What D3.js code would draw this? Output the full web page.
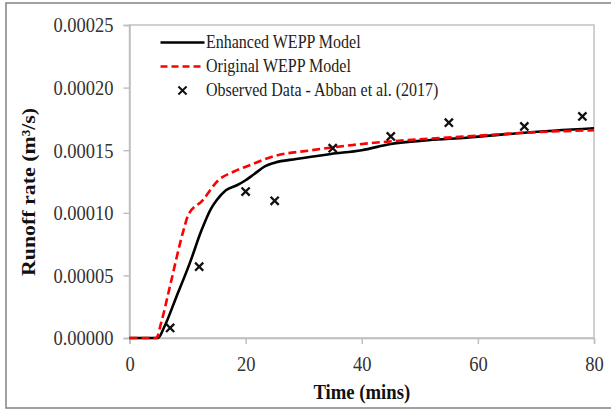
<!DOCTYPE html>
<html>
<head>
<meta charset="utf-8">
<script src="https://cdn.jsdelivr.net/npm/d3@7"></script>
<style>
  body { margin: 0; background: #fff; }
  text { font-family: "Liberation Serif", "Times New Roman", serif; }
</style>
</head>
<body>
<script>
// runoff rate values in m3/s
const enhancedTime = [0, 4.9, 6, 8, 10.4, 12.4, 14, 15, 16.6, 18.5, 20, 21.5, 23.3, 25, 28.7, 34.7, 40, 45, 51.5, 58, 68, 80]
const enhancedRate = [0, 0, 0.9, 3.2, 6.0, 8.6, 10.3, 11.0, 11.8, 12.2, 12.6, 13.1, 13.7, 14.0, 14.3, 14.7, 15.0, 15.5, 15.8, 16.0, 16.4, 16.75].map(v => v * 1e-5)

const originalTime = [0, 4.6, 5.5, 7, 9.3, 10.1, 12.6, 15.3, 18, 20.7, 24.7, 31.4, 38.1, 44.8, 58.2, 68.3, 80]
const originalRate = [0, 0, 1.3, 4.2, 8.6, 9.8, 11.0, 12.6, 13.3, 13.8, 14.5, 15.0, 15.4, 15.7, 16.1, 16.4, 16.6].map(v => v * 1e-5)

const observedTime = [7, 12, 20, 25, 35, 45, 55, 68, 78]
const observedRate = [0.8, 5.7, 11.7, 10.96, 15.16, 16.1, 17.2, 16.9, 17.7].map(v => v * 1e-5)

const xTicks = [0, 20, 40, 60, 80]
const yTicks = [0, 0.00005, 0.0001, 0.00015, 0.0002, 0.00025]

const width = 611
const height = 411
const margin = { top: 25, right: 17, bottom: 73, left: 129.5 }
const stretch = 1.17

const svg = d3.select('body').append('svg')
  .attr('width', width)
  .attr('height', height)

// outer frame
svg.append('rect')
  .attr('x', 6).attr('y', 3)
  .attr('width', 640).attr('height', 405)
  .attr('fill', 'none')
  .attr('stroke', '#8a8a8a')
  .attr('stroke-width', 1.6)

const x = d3.scaleLinear().domain([0, 80]).range([margin.left, width - margin.right])
const y = d3.scaleLinear().domain([0, 0.00025]).range([height - margin.bottom, margin.top])

const axisColor = '#bdbdbd'

// plot box
svg.append('rect')
  .attr('x', x(0)).attr('y', y(0.00025))
  .attr('width', x(80) - x(0)).attr('height', y(0) - y(0.00025))
  .attr('fill', 'none')
  .attr('stroke', axisColor)
  .attr('stroke-width', 1.4)

const yAxis = svg.append('g')
  .attr('transform', `translate(${x(0)},0)`)
  .call(d3.axisLeft(y).tickValues(yTicks).tickSize(6).tickPadding(10).tickFormat(d3.format('.5f')))
yAxis.select('.domain').attr('stroke', axisColor).attr('stroke-width', 1.4)
yAxis.selectAll('.tick line').attr('stroke', axisColor).attr('stroke-width', 1.4)
yAxis.selectAll('.tick text')
  .attr('font-size', 18.5)
  .attr('fill', '#333')
  .attr('transform', `scale(1,${stretch})`)

const xAxis = svg.append('g')
  .attr('transform', `translate(0,${y(0)})`)
  .call(d3.axisBottom(x).tickValues(xTicks).tickSize(6))
xAxis.select('.domain').attr('stroke', axisColor).attr('stroke-width', 1.4)
xAxis.selectAll('.tick line').attr('stroke', axisColor).attr('stroke-width', 1.4)
xAxis.selectAll('.tick text')
  .attr('font-size', 18.5)
  .attr('fill', '#333')
  .attr('y', 33 / stretch)
  .attr('dy', 0)
  .attr('transform', `scale(1,${stretch})`)

// axis titles
svg.append('text')
  .attr('transform', `translate(${(x(0) + x(80)) / 2},399) scale(1,${stretch})`)
  .attr('text-anchor', 'middle')
  .attr('font-size', 18.7)
  .attr('font-weight', 'bold')
  .attr('fill', '#111')
  .text('Time (mins)')

svg.append('text')
  .attr('transform', `translate(35,192) scale(1,${stretch}) rotate(-90)`)
  .attr('text-anchor', 'middle')
  .attr('font-size', 18.7)
  .attr('font-weight', 'bold')
  .attr('fill', '#111')
  .text('Runoff rate (m³/s)')

const line = d3.line()
  .x(d => x(d[0]))
  .y(d => y(d[1]))
  .curve(d3.curveMonotoneX)

svg.append('path')
  .datum(d3.zip(enhancedTime, enhancedRate))
  .attr('d', line)
  .attr('fill', 'none')
  .attr('stroke', '#000')
  .attr('stroke-width', 2.6)

svg.append('path')
  .datum(d3.zip(originalTime, originalRate))
  .attr('d', line)
  .attr('fill', 'none')
  .attr('stroke', '#ff0000')
  .attr('stroke-width', 2.6)
  .attr('stroke-dasharray', '8,4')

const cross = d3.symbol().type(d3.symbolTimes).size(45)

svg.selectAll('path.observed')
  .data(d3.zip(observedTime, observedRate))
  .enter()
  .append('path')
  .attr('class', 'observed')
  .attr('transform', d => `translate(${x(d[0])},${y(d[1])})`)
  .attr('d', cross)
  .attr('fill', 'none')
  .attr('stroke', '#111')
  .attr('stroke-width', 2.3)

// legend
const legend = svg.append('g')
const legendX = 160.5
const legendItems = ['Enhanced WEPP Model', 'Original WEPP Model', 'Observed Data - Abban et al. (2017)']
const legendY = [42.5, 66.5, 90.5]

legend.append('line')
  .attr('x1', legendX).attr('x2', legendX + 44)
  .attr('y1', legendY[0]).attr('y2', legendY[0])
  .attr('stroke', '#000').attr('stroke-width', 2.6)

legend.append('line')
  .attr('x1', legendX).attr('x2', legendX + 44)
  .attr('y1', legendY[1]).attr('y2', legendY[1])
  .attr('stroke', '#ff0000').attr('stroke-width', 2.6)
  .attr('stroke-dasharray', '7,4')

legend.append('path')
  .attr('transform', `translate(${legendX + 22},${legendY[2]})`)
  .attr('d', cross)
  .attr('fill', 'none')
  .attr('stroke', '#111')
  .attr('stroke-width', 2)

legend.selectAll('text')
  .data(legendItems)
  .enter()
  .append('text')
  .attr('transform', (d, i) => `translate(${legendX + 45.5},${legendY[i] + 5.5}) scale(1,${stretch})`)
  .attr('font-size', 16)
  .attr('fill', '#222')
  .text(d => d)
</script>
</body>
</html>
